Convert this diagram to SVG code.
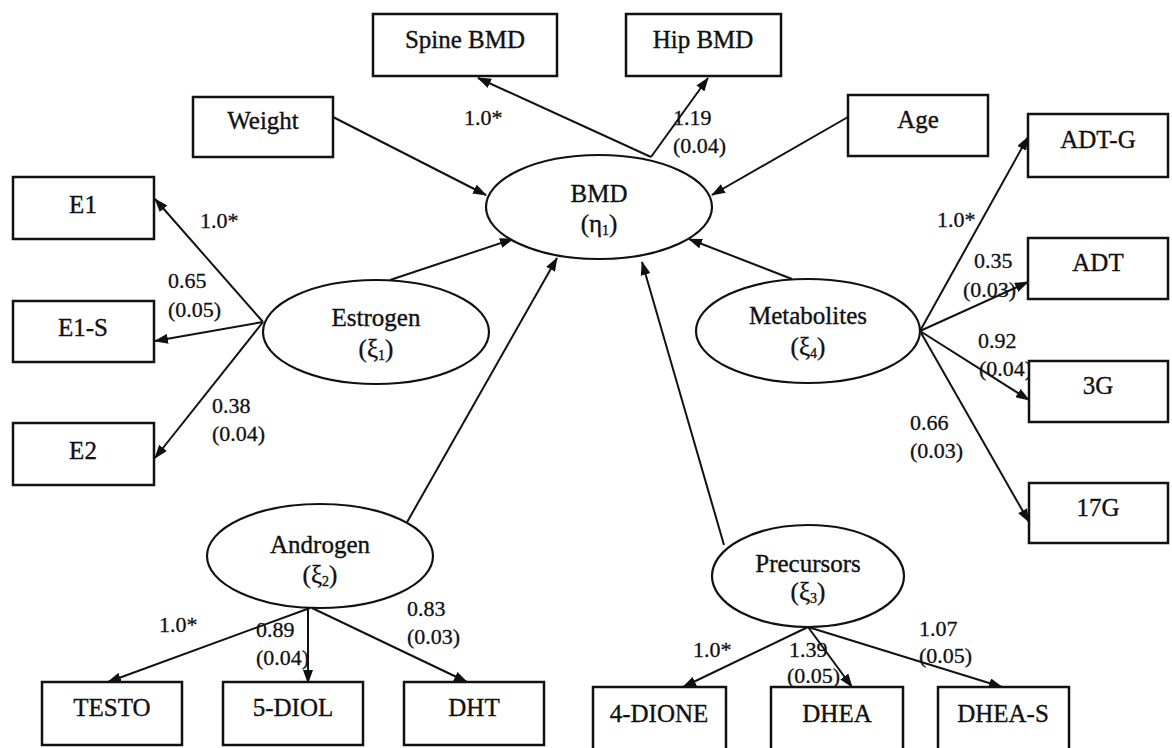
<svg xmlns="http://www.w3.org/2000/svg" width="1172" height="748" viewBox="0 0 1172 748">
<style>
  .box { fill: #fff; stroke: #111; stroke-width: 2.5; }
  .ell { fill: #fff; stroke: #111; stroke-width: 2.2; }
  .t { font-family: "Liberation Serif", "Times New Roman", serif; font-size: 25px; fill: #111; stroke: #111; stroke-width: 0.35; text-anchor: middle; }
  .lab { font-family: "Liberation Serif", "Times New Roman", serif; font-size: 22px; fill: #111; stroke: #111; stroke-width: 0.3; }
  .sub { font-size: 14px; }
  .c line { stroke: #111; stroke-width: 2; marker-end: url(#ah); }
</style>
<defs>
  <marker id="ah" markerUnits="userSpaceOnUse" markerWidth="14" markerHeight="10" refX="13" refY="5" orient="auto">
    <path d="M0,0 L14,5 L0,10 z" fill="#111"/>
  </marker>
</defs>
<rect width="1172" height="748" fill="#fff"/>

<g id="labels">
  <text class="lab" x="464" y="125">1.0*</text>
  <text class="lab" x="673" y="125">1.19</text>
  <text class="lab" x="673" y="153">(0.04)</text>
  <text class="lab" x="200" y="228">1.0*</text>
  <text class="lab" x="168" y="288">0.65</text>
  <text class="lab" x="168" y="317">(0.05)</text>
  <text class="lab" x="212" y="413">0.38</text>
  <text class="lab" x="212" y="441">(0.04)</text>
  <text class="lab" x="937" y="227">1.0*</text>
  <text class="lab" x="974" y="268">0.35</text>
  <text class="lab" x="963" y="297">(0.03)</text>
  <text class="lab" x="978" y="348">0.92</text>
  <text class="lab" x="979" y="376">(0.04)</text>
  <text class="lab" x="910" y="430">0.66</text>
  <text class="lab" x="910" y="458">(0.03)</text>
  <text class="lab" x="159" y="632">1.0*</text>
  <text class="lab" x="256" y="637">0.89</text>
  <text class="lab" x="256" y="665">(0.04)</text>
  <text class="lab" x="407" y="616">0.83</text>
  <text class="lab" x="407" y="644">(0.03)</text>
  <text class="lab" x="693" y="657">1.0*</text>
  <text class="lab" x="789" y="657">1.39</text>
  <text class="lab" x="787" y="683">(0.05)</text>
  <text class="lab" x="919" y="636">1.07</text>
  <text class="lab" x="919" y="663">(0.05)</text>
</g>

<g id="connectors" class="c">
  <line x1="651" y1="157" x2="478" y2="78"/>
  <line x1="651" y1="157" x2="708" y2="78"/>
  <line x1="333" y1="117" x2="486" y2="195"/>
  <line x1="848" y1="117" x2="712" y2="195"/>
  <line x1="390" y1="280" x2="513" y2="239"/>
  <line x1="406" y1="524" x2="557" y2="258"/>
  <line x1="792" y1="279" x2="689" y2="239"/>
  <line x1="724" y1="545" x2="642" y2="262"/>
  <line x1="263" y1="322" x2="155" y2="199"/>
  <line x1="263" y1="322" x2="155" y2="341"/>
  <line x1="263" y1="322" x2="155" y2="458"/>
  <line x1="920" y1="331" x2="1028" y2="137"/>
  <line x1="920" y1="331" x2="1028" y2="282"/>
  <line x1="920" y1="331" x2="1029" y2="400"/>
  <line x1="920" y1="331" x2="1029" y2="522"/>
  <line x1="310" y1="608" x2="108" y2="682"/>
  <line x1="308" y1="608" x2="308" y2="683"/>
  <line x1="312" y1="608" x2="467" y2="682"/>
  <line x1="808" y1="627" x2="683" y2="687"/>
  <line x1="808" y1="627" x2="852" y2="687"/>
  <line x1="808" y1="627" x2="1002" y2="687"/>
</g>

<g id="spine"><rect class="box" x="373" y="14" width="184" height="62"/><text class="t" x="465" y="48">Spine BMD</text></g>
<g id="hip"><rect class="box" x="626" y="14" width="155" height="62"/><text class="t" x="703" y="48">Hip BMD</text></g>
<g id="weight"><rect class="box" x="193" y="97" width="140" height="60"/><text class="t" x="263" y="129">Weight</text></g>
<g id="age"><rect class="box" x="848" y="95" width="140" height="61"/><text class="t" x="918" y="128">Age</text></g>
<g id="e1"><rect class="box" x="13" y="177" width="141" height="62"/><text class="t" x="83" y="213">E1</text></g>
<g id="e1s"><rect class="box" x="13" y="301" width="141" height="61"/><text class="t" x="83" y="336">E1-S</text></g>
<g id="e2"><rect class="box" x="13" y="423" width="141" height="62"/><text class="t" x="83" y="459">E2</text></g>
<g id="adtg"><rect class="box" x="1028" y="114" width="140" height="63"/><text class="t" x="1098" y="148">ADT-G</text></g>
<g id="adt"><rect class="box" x="1028" y="238" width="140" height="61"/><text class="t" x="1098" y="271">ADT</text></g>
<g id="g3"><rect class="box" x="1029" y="361" width="139" height="61"/><text class="t" x="1098" y="394">3G</text></g>
<g id="g17"><rect class="box" x="1029" y="483" width="139" height="60"/><text class="t" x="1098" y="516">17G</text></g>
<g id="testo"><rect class="box" x="42" y="682" width="140" height="63"/><text class="t" x="112" y="716">TESTO</text></g>
<g id="diol"><rect class="box" x="223" y="682" width="140" height="63"/><text class="t" x="293" y="716">5-DIOL</text></g>
<g id="dht"><rect class="box" x="404" y="682" width="140" height="63"/><text class="t" x="474" y="716">DHT</text></g>
<g id="dione"><rect class="box" x="593" y="687" width="133" height="70"/><text class="t" x="659" y="722">4-DIONE</text></g>
<g id="dhea"><rect class="box" x="771" y="687" width="132" height="70"/><text class="t" x="837" y="722">DHEA</text></g>
<g id="dheas"><rect class="box" x="938" y="687" width="131" height="70"/><text class="t" x="1003" y="722">DHEA-S</text></g>

<g id="bmd"><ellipse class="ell" cx="599" cy="207" rx="113" ry="52"/><text class="t" x="599" y="202">BMD</text><text class="t" x="599" y="232">(η<tspan class="sub" dy="3">1</tspan><tspan dy="-3">)</tspan></text></g>
<g id="estrogen"><ellipse class="ell" cx="376" cy="332" rx="113" ry="52"/><text class="t" x="376" y="326">Estrogen</text><text class="t" x="376" y="357">(ξ<tspan class="sub" dy="3">1</tspan><tspan dy="-3">)</tspan></text></g>
<g id="metabolites"><ellipse class="ell" cx="808" cy="331" rx="112" ry="52"/><text class="t" x="808" y="324">Metabolites</text><text class="t" x="808" y="355">(ξ<tspan class="sub" dy="3">4</tspan><tspan dy="-3">)</tspan></text></g>
<g id="androgen"><ellipse class="ell" cx="320" cy="556" rx="113" ry="52"/><text class="t" x="320" y="553">Androgen</text><text class="t" x="320" y="583">(ξ<tspan class="sub" dy="3">2</tspan><tspan dy="-3">)</tspan></text></g>
<g id="precursors"><ellipse class="ell" cx="808" cy="576" rx="96" ry="51"/><text class="t" x="808" y="572">Precursors</text><text class="t" x="808" y="600">(ξ<tspan class="sub" dy="3">3</tspan><tspan dy="-3">)</tspan></text></g>
</svg>
